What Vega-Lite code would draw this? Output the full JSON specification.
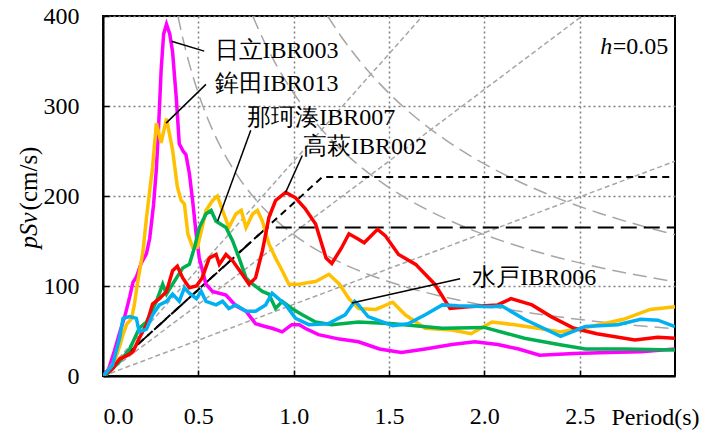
{
  "$schema": "https://vega.github.io/schema/vega-lite/v6.json",
  "width": 720,
  "height": 433,
  "autosize": {"type": "fit", "contains": "padding"},
  "padding": {"left": 16, "top": 4, "right": 45, "bottom": 4},
  "background": "white",
  "config": {
    "view": {"stroke": "black", "strokeWidth": 2},
    "font": "Liberation Serif",
    "axis": {
      "labelFont": "Liberation Serif",
      "titleFont": "Liberation Serif",
      "labelFontSize": 24,
      "titleFontSize": 24,
      "titleFontWeight": "normal",
      "labelColor": "black",
      "titleColor": "black",
      "domainColor": "black",
      "domainWidth": 2,
      "tickColor": "black",
      "tickWidth": 1.5,
      "gridColor": "#7f7f7f",
      "gridDash": [2, 3],
      "gridWidth": 1.5,
      "gridOpacity": 1
    }
  },
  "datasets": {
    "guides": [
      {"g": "a500", "k": "gshort", "T": 0, "Sv": 0},
      {"g": "a500", "k": "gshort", "T": 3, "Sv": 238.7},
      {"g": "a1000", "k": "gshort", "T": 0, "Sv": 0},
      {"g": "a1000", "k": "gshort", "T": 2.513, "Sv": 400},
      {"g": "a1500", "k": "gshort", "T": 0, "Sv": 0},
      {"g": "a1500", "k": "gshort", "T": 1.676, "Sv": 400},
      {"g": "d25", "k": "glong", "T": 0.393, "Sv": 400},
      {"g": "d25", "k": "glong", "T": 0.42, "Sv": 374},
      {"g": "d25", "k": "glong", "T": 0.45, "Sv": 349},
      {"g": "d25", "k": "glong", "T": 0.5, "Sv": 314.2},
      {"g": "d25", "k": "glong", "T": 0.55, "Sv": 285.6},
      {"g": "d25", "k": "glong", "T": 0.6, "Sv": 261.8},
      {"g": "d25", "k": "glong", "T": 0.7, "Sv": 224.4},
      {"g": "d25", "k": "glong", "T": 0.8, "Sv": 196.3},
      {"g": "d25", "k": "glong", "T": 0.9, "Sv": 174.5},
      {"g": "d25", "k": "glong", "T": 1.0, "Sv": 157.1},
      {"g": "d25", "k": "glong", "T": 1.2, "Sv": 130.9},
      {"g": "d25", "k": "glong", "T": 1.4, "Sv": 112.2},
      {"g": "d25", "k": "glong", "T": 1.6, "Sv": 98.2},
      {"g": "d25", "k": "glong", "T": 1.8, "Sv": 87.3},
      {"g": "d25", "k": "glong", "T": 2.0, "Sv": 78.5},
      {"g": "d25", "k": "glong", "T": 2.25, "Sv": 69.8},
      {"g": "d25", "k": "glong", "T": 2.5, "Sv": 62.8},
      {"g": "d25", "k": "glong", "T": 2.75, "Sv": 57.1},
      {"g": "d25", "k": "glong", "T": 3.0, "Sv": 52.4},
      {"g": "d50", "k": "glong", "T": 0.785, "Sv": 400},
      {"g": "d50", "k": "glong", "T": 0.85, "Sv": 369.6},
      {"g": "d50", "k": "glong", "T": 0.9, "Sv": 349.1},
      {"g": "d50", "k": "glong", "T": 1.0, "Sv": 314.2},
      {"g": "d50", "k": "glong", "T": 1.1, "Sv": 285.6},
      {"g": "d50", "k": "glong", "T": 1.2, "Sv": 261.8},
      {"g": "d50", "k": "glong", "T": 1.35, "Sv": 232.7},
      {"g": "d50", "k": "glong", "T": 1.5, "Sv": 209.4},
      {"g": "d50", "k": "glong", "T": 1.7, "Sv": 184.8},
      {"g": "d50", "k": "glong", "T": 1.9, "Sv": 165.3},
      {"g": "d50", "k": "glong", "T": 2.1, "Sv": 149.6},
      {"g": "d50", "k": "glong", "T": 2.3, "Sv": 136.6},
      {"g": "d50", "k": "glong", "T": 2.5, "Sv": 125.7},
      {"g": "d50", "k": "glong", "T": 2.75, "Sv": 114.2},
      {"g": "d50", "k": "glong", "T": 3.0, "Sv": 104.7},
      {"g": "d75", "k": "glong", "T": 1.178, "Sv": 400},
      {"g": "d75", "k": "glong", "T": 1.25, "Sv": 377},
      {"g": "d75", "k": "glong", "T": 1.35, "Sv": 349.1},
      {"g": "d75", "k": "glong", "T": 1.5, "Sv": 314.2},
      {"g": "d75", "k": "glong", "T": 1.65, "Sv": 285.6},
      {"g": "d75", "k": "glong", "T": 1.8, "Sv": 261.8},
      {"g": "d75", "k": "glong", "T": 2.0, "Sv": 235.6},
      {"g": "d75", "k": "glong", "T": 2.2, "Sv": 214.2},
      {"g": "d75", "k": "glong", "T": 2.4, "Sv": 196.3},
      {"g": "d75", "k": "glong", "T": 2.6, "Sv": 181.2},
      {"g": "d75", "k": "glong", "T": 2.8, "Sv": 168.3},
      {"g": "d75", "k": "glong", "T": 3.0, "Sv": 157.1}
    ],
    "design": [
      {"g": "L1", "k": "bshort", "T": 0, "Sv": 0},
      {"g": "L1", "k": "bshort", "T": 1.15, "Sv": 221},
      {"g": "L1", "k": "bshort", "T": 3, "Sv": 221},
      {"g": "L2", "k": "blong", "T": 0, "Sv": 0},
      {"g": "L2", "k": "blong", "T": 0.86, "Sv": 165},
      {"g": "L2", "k": "blong", "T": 3, "Sv": 165}
    ],
    "spectra": [
      {"s": "日立IBR003", "T": 0, "Sv": 0},
      {"s": "日立IBR003", "T": 0.03, "Sv": 8},
      {"s": "日立IBR003", "T": 0.06, "Sv": 28},
      {"s": "日立IBR003", "T": 0.09, "Sv": 50},
      {"s": "日立IBR003", "T": 0.114, "Sv": 66},
      {"s": "日立IBR003", "T": 0.14, "Sv": 88},
      {"s": "日立IBR003", "T": 0.157, "Sv": 104},
      {"s": "日立IBR003", "T": 0.175, "Sv": 110},
      {"s": "日立IBR003", "T": 0.2, "Sv": 125},
      {"s": "日立IBR003", "T": 0.228, "Sv": 136},
      {"s": "日立IBR003", "T": 0.245, "Sv": 153},
      {"s": "日立IBR003", "T": 0.265, "Sv": 190},
      {"s": "日立IBR003", "T": 0.28, "Sv": 230},
      {"s": "日立IBR003", "T": 0.29, "Sv": 270},
      {"s": "日立IBR003", "T": 0.305, "Sv": 340},
      {"s": "日立IBR003", "T": 0.318, "Sv": 380},
      {"s": "日立IBR003", "T": 0.333, "Sv": 391},
      {"s": "日立IBR003", "T": 0.35, "Sv": 380},
      {"s": "日立IBR003", "T": 0.365, "Sv": 360},
      {"s": "日立IBR003", "T": 0.385, "Sv": 307},
      {"s": "日立IBR003", "T": 0.4, "Sv": 258},
      {"s": "日立IBR003", "T": 0.42, "Sv": 250},
      {"s": "日立IBR003", "T": 0.435, "Sv": 246},
      {"s": "日立IBR003", "T": 0.453, "Sv": 225},
      {"s": "日立IBR003", "T": 0.47, "Sv": 195},
      {"s": "日立IBR003", "T": 0.49, "Sv": 155},
      {"s": "日立IBR003", "T": 0.505, "Sv": 131},
      {"s": "日立IBR003", "T": 0.54, "Sv": 102},
      {"s": "日立IBR003", "T": 0.574, "Sv": 94},
      {"s": "日立IBR003", "T": 0.61, "Sv": 92},
      {"s": "日立IBR003", "T": 0.645, "Sv": 90},
      {"s": "日立IBR003", "T": 0.697, "Sv": 78},
      {"s": "日立IBR003", "T": 0.75, "Sv": 72},
      {"s": "日立IBR003", "T": 0.8, "Sv": 58},
      {"s": "日立IBR003", "T": 0.85, "Sv": 55},
      {"s": "日立IBR003", "T": 0.887, "Sv": 53},
      {"s": "日立IBR003", "T": 0.94, "Sv": 49},
      {"s": "日立IBR003", "T": 0.99, "Sv": 57},
      {"s": "日立IBR003", "T": 1.03, "Sv": 57},
      {"s": "日立IBR003", "T": 1.06, "Sv": 53},
      {"s": "日立IBR003", "T": 1.13, "Sv": 46},
      {"s": "日立IBR003", "T": 1.24, "Sv": 41},
      {"s": "日立IBR003", "T": 1.34, "Sv": 38},
      {"s": "日立IBR003", "T": 1.45, "Sv": 30},
      {"s": "日立IBR003", "T": 1.565, "Sv": 26},
      {"s": "日立IBR003", "T": 1.69, "Sv": 30},
      {"s": "日立IBR003", "T": 1.83, "Sv": 35},
      {"s": "日立IBR003", "T": 1.95, "Sv": 38},
      {"s": "日立IBR003", "T": 2.07, "Sv": 35},
      {"s": "日立IBR003", "T": 2.18, "Sv": 30},
      {"s": "日立IBR003", "T": 2.29, "Sv": 23},
      {"s": "日立IBR003", "T": 2.47, "Sv": 25},
      {"s": "日立IBR003", "T": 2.65, "Sv": 26},
      {"s": "日立IBR003", "T": 2.82, "Sv": 27},
      {"s": "日立IBR003", "T": 3.0, "Sv": 30},
      {"s": "鉾田IBR013", "T": 0, "Sv": 0},
      {"s": "鉾田IBR013", "T": 0.02, "Sv": 4},
      {"s": "鉾田IBR013", "T": 0.06, "Sv": 16},
      {"s": "鉾田IBR013", "T": 0.09, "Sv": 35},
      {"s": "鉾田IBR013", "T": 0.105, "Sv": 46},
      {"s": "鉾田IBR013", "T": 0.123, "Sv": 57},
      {"s": "鉾田IBR013", "T": 0.15, "Sv": 64},
      {"s": "鉾田IBR013", "T": 0.165, "Sv": 80},
      {"s": "鉾田IBR013", "T": 0.18, "Sv": 102},
      {"s": "鉾田IBR013", "T": 0.21, "Sv": 139},
      {"s": "鉾田IBR013", "T": 0.228, "Sv": 176},
      {"s": "鉾田IBR013", "T": 0.245, "Sv": 206},
      {"s": "鉾田IBR013", "T": 0.26, "Sv": 232},
      {"s": "鉾田IBR013", "T": 0.28, "Sv": 281},
      {"s": "鉾田IBR013", "T": 0.305, "Sv": 259},
      {"s": "鉾田IBR013", "T": 0.333, "Sv": 286},
      {"s": "鉾田IBR013", "T": 0.365, "Sv": 251},
      {"s": "鉾田IBR013", "T": 0.39, "Sv": 210},
      {"s": "鉾田IBR013", "T": 0.41, "Sv": 195},
      {"s": "鉾田IBR013", "T": 0.427, "Sv": 191},
      {"s": "鉾田IBR013", "T": 0.445, "Sv": 158},
      {"s": "鉾田IBR013", "T": 0.47, "Sv": 143},
      {"s": "鉾田IBR013", "T": 0.495, "Sv": 143},
      {"s": "鉾田IBR013", "T": 0.52, "Sv": 165},
      {"s": "鉾田IBR013", "T": 0.54, "Sv": 184},
      {"s": "鉾田IBR013", "T": 0.575, "Sv": 195},
      {"s": "鉾田IBR013", "T": 0.6, "Sv": 200},
      {"s": "鉾田IBR013", "T": 0.627, "Sv": 184},
      {"s": "鉾田IBR013", "T": 0.66, "Sv": 165},
      {"s": "鉾田IBR013", "T": 0.697, "Sv": 180},
      {"s": "鉾田IBR013", "T": 0.725, "Sv": 184},
      {"s": "鉾田IBR013", "T": 0.75, "Sv": 165},
      {"s": "鉾田IBR013", "T": 0.785, "Sv": 180},
      {"s": "鉾田IBR013", "T": 0.81, "Sv": 184},
      {"s": "鉾田IBR013", "T": 0.836, "Sv": 172},
      {"s": "鉾田IBR013", "T": 0.87, "Sv": 147},
      {"s": "鉾田IBR013", "T": 0.905, "Sv": 131},
      {"s": "鉾田IBR013", "T": 0.94, "Sv": 117},
      {"s": "鉾田IBR013", "T": 0.975, "Sv": 102},
      {"s": "鉾田IBR013", "T": 1.03, "Sv": 102},
      {"s": "鉾田IBR013", "T": 1.08, "Sv": 104},
      {"s": "鉾田IBR013", "T": 1.115, "Sv": 105},
      {"s": "鉾田IBR013", "T": 1.185, "Sv": 113},
      {"s": "鉾田IBR013", "T": 1.24, "Sv": 102},
      {"s": "鉾田IBR013", "T": 1.29, "Sv": 86},
      {"s": "鉾田IBR013", "T": 1.34, "Sv": 75},
      {"s": "鉾田IBR013", "T": 1.43, "Sv": 74},
      {"s": "鉾田IBR013", "T": 1.52, "Sv": 82},
      {"s": "鉾田IBR013", "T": 1.585, "Sv": 68},
      {"s": "鉾田IBR013", "T": 1.69, "Sv": 53},
      {"s": "鉾田IBR013", "T": 1.83, "Sv": 51},
      {"s": "鉾田IBR013", "T": 1.93, "Sv": 47},
      {"s": "鉾田IBR013", "T": 2.04, "Sv": 60},
      {"s": "鉾田IBR013", "T": 2.16, "Sv": 57},
      {"s": "鉾田IBR013", "T": 2.28, "Sv": 53},
      {"s": "鉾田IBR013", "T": 2.4, "Sv": 49},
      {"s": "鉾田IBR013", "T": 2.56, "Sv": 55},
      {"s": "鉾田IBR013", "T": 2.73, "Sv": 63},
      {"s": "鉾田IBR013", "T": 2.87, "Sv": 74},
      {"s": "鉾田IBR013", "T": 3.0, "Sv": 77},
      {"s": "那珂湊IBR007", "T": 0, "Sv": 0},
      {"s": "那珂湊IBR007", "T": 0.02, "Sv": 2},
      {"s": "那珂湊IBR007", "T": 0.087, "Sv": 16},
      {"s": "那珂湊IBR007", "T": 0.14, "Sv": 30},
      {"s": "那珂湊IBR007", "T": 0.19, "Sv": 53},
      {"s": "那珂湊IBR007", "T": 0.228, "Sv": 60},
      {"s": "那珂湊IBR007", "T": 0.28, "Sv": 83},
      {"s": "那珂湊IBR007", "T": 0.313, "Sv": 102},
      {"s": "那珂湊IBR007", "T": 0.333, "Sv": 91},
      {"s": "那珂湊IBR007", "T": 0.365, "Sv": 102},
      {"s": "那珂湊IBR007", "T": 0.418, "Sv": 120},
      {"s": "那珂湊IBR007", "T": 0.453, "Sv": 124},
      {"s": "那珂湊IBR007", "T": 0.48, "Sv": 143},
      {"s": "那珂湊IBR007", "T": 0.505, "Sv": 165},
      {"s": "那珂湊IBR007", "T": 0.54, "Sv": 180},
      {"s": "那珂湊IBR007", "T": 0.567, "Sv": 184},
      {"s": "那珂湊IBR007", "T": 0.593, "Sv": 172},
      {"s": "那珂湊IBR007", "T": 0.645, "Sv": 165},
      {"s": "那珂湊IBR007", "T": 0.68, "Sv": 150},
      {"s": "那珂湊IBR007", "T": 0.714, "Sv": 131},
      {"s": "那珂湊IBR007", "T": 0.75, "Sv": 109},
      {"s": "那珂湊IBR007", "T": 0.785, "Sv": 102},
      {"s": "那珂湊IBR007", "T": 0.836, "Sv": 94},
      {"s": "那珂湊IBR007", "T": 0.87, "Sv": 91},
      {"s": "那珂湊IBR007", "T": 0.905, "Sv": 75},
      {"s": "那珂湊IBR007", "T": 0.94, "Sv": 83},
      {"s": "那珂湊IBR007", "T": 0.99, "Sv": 75},
      {"s": "那珂湊IBR007", "T": 1.045, "Sv": 68},
      {"s": "那珂湊IBR007", "T": 1.115, "Sv": 60},
      {"s": "那珂湊IBR007", "T": 1.2, "Sv": 57},
      {"s": "那珂湊IBR007", "T": 1.34, "Sv": 60},
      {"s": "那珂湊IBR007", "T": 1.52, "Sv": 58},
      {"s": "那珂湊IBR007", "T": 1.78, "Sv": 53},
      {"s": "那珂湊IBR007", "T": 2.0, "Sv": 54},
      {"s": "那珂湊IBR007", "T": 2.21, "Sv": 42},
      {"s": "那珂湊IBR007", "T": 2.39, "Sv": 35},
      {"s": "那珂湊IBR007", "T": 2.53, "Sv": 30},
      {"s": "那珂湊IBR007", "T": 2.73, "Sv": 30},
      {"s": "那珂湊IBR007", "T": 3.0, "Sv": 29},
      {"s": "高萩IBR002", "T": 0, "Sv": 0},
      {"s": "高萩IBR002", "T": 0.05, "Sv": 8},
      {"s": "高萩IBR002", "T": 0.087, "Sv": 19},
      {"s": "高萩IBR002", "T": 0.12, "Sv": 22},
      {"s": "高萩IBR002", "T": 0.157, "Sv": 27},
      {"s": "高萩IBR002", "T": 0.19, "Sv": 42},
      {"s": "高萩IBR002", "T": 0.228, "Sv": 57},
      {"s": "高萩IBR002", "T": 0.26, "Sv": 80},
      {"s": "高萩IBR002", "T": 0.296, "Sv": 86},
      {"s": "高萩IBR002", "T": 0.333, "Sv": 94},
      {"s": "高萩IBR002", "T": 0.365, "Sv": 117},
      {"s": "高萩IBR002", "T": 0.39, "Sv": 122},
      {"s": "高萩IBR002", "T": 0.418, "Sv": 109},
      {"s": "高萩IBR002", "T": 0.453, "Sv": 98},
      {"s": "高萩IBR002", "T": 0.49, "Sv": 100},
      {"s": "高萩IBR002", "T": 0.52, "Sv": 109},
      {"s": "高萩IBR002", "T": 0.557, "Sv": 131},
      {"s": "高萩IBR002", "T": 0.593, "Sv": 135},
      {"s": "高萩IBR002", "T": 0.61, "Sv": 124},
      {"s": "高萩IBR002", "T": 0.645, "Sv": 135},
      {"s": "高萩IBR002", "T": 0.68, "Sv": 128},
      {"s": "高萩IBR002", "T": 0.73, "Sv": 113},
      {"s": "高萩IBR002", "T": 0.766, "Sv": 102},
      {"s": "高萩IBR002", "T": 0.8, "Sv": 109},
      {"s": "高萩IBR002", "T": 0.836, "Sv": 139},
      {"s": "高萩IBR002", "T": 0.87, "Sv": 176},
      {"s": "高萩IBR002", "T": 0.905, "Sv": 195},
      {"s": "高萩IBR002", "T": 0.958, "Sv": 204},
      {"s": "高萩IBR002", "T": 1.01, "Sv": 198},
      {"s": "高萩IBR002", "T": 1.06, "Sv": 186},
      {"s": "高萩IBR002", "T": 1.115, "Sv": 169},
      {"s": "高萩IBR002", "T": 1.17, "Sv": 131},
      {"s": "高萩IBR002", "T": 1.2, "Sv": 125},
      {"s": "高萩IBR002", "T": 1.25, "Sv": 142},
      {"s": "高萩IBR002", "T": 1.29, "Sv": 158},
      {"s": "高萩IBR002", "T": 1.34, "Sv": 152},
      {"s": "高萩IBR002", "T": 1.37, "Sv": 148},
      {"s": "高萩IBR002", "T": 1.44, "Sv": 163},
      {"s": "高萩IBR002", "T": 1.48, "Sv": 156},
      {"s": "高萩IBR002", "T": 1.55, "Sv": 135},
      {"s": "高萩IBR002", "T": 1.64, "Sv": 124},
      {"s": "高萩IBR002", "T": 1.74, "Sv": 102},
      {"s": "高萩IBR002", "T": 1.82, "Sv": 75},
      {"s": "高萩IBR002", "T": 1.915, "Sv": 77},
      {"s": "高萩IBR002", "T": 2.07, "Sv": 79},
      {"s": "高萩IBR002", "T": 2.14, "Sv": 86},
      {"s": "高萩IBR002", "T": 2.25, "Sv": 79},
      {"s": "高萩IBR002", "T": 2.35, "Sv": 66},
      {"s": "高萩IBR002", "T": 2.47, "Sv": 53},
      {"s": "高萩IBR002", "T": 2.59, "Sv": 47},
      {"s": "高萩IBR002", "T": 2.79, "Sv": 40},
      {"s": "高萩IBR002", "T": 2.91, "Sv": 43},
      {"s": "高萩IBR002", "T": 3.0, "Sv": 42},
      {"s": "水戸IBR006", "T": 0, "Sv": 0},
      {"s": "水戸IBR006", "T": 0.01, "Sv": 2},
      {"s": "水戸IBR006", "T": 0.05, "Sv": 12},
      {"s": "水戸IBR006", "T": 0.087, "Sv": 42},
      {"s": "水戸IBR006", "T": 0.105, "Sv": 64},
      {"s": "水戸IBR006", "T": 0.14, "Sv": 66},
      {"s": "水戸IBR006", "T": 0.175, "Sv": 64},
      {"s": "水戸IBR006", "T": 0.19, "Sv": 49},
      {"s": "水戸IBR006", "T": 0.228, "Sv": 52},
      {"s": "水戸IBR006", "T": 0.26, "Sv": 68},
      {"s": "水戸IBR006", "T": 0.296, "Sv": 79},
      {"s": "水戸IBR006", "T": 0.333, "Sv": 83},
      {"s": "水戸IBR006", "T": 0.365, "Sv": 91},
      {"s": "水戸IBR006", "T": 0.4, "Sv": 83},
      {"s": "水戸IBR006", "T": 0.427, "Sv": 98},
      {"s": "水戸IBR006", "T": 0.453, "Sv": 92},
      {"s": "水戸IBR006", "T": 0.49, "Sv": 86},
      {"s": "水戸IBR006", "T": 0.515, "Sv": 94},
      {"s": "水戸IBR006", "T": 0.54, "Sv": 83},
      {"s": "水戸IBR006", "T": 0.593, "Sv": 79},
      {"s": "水戸IBR006", "T": 0.627, "Sv": 83},
      {"s": "水戸IBR006", "T": 0.66, "Sv": 75},
      {"s": "水戸IBR006", "T": 0.697, "Sv": 79},
      {"s": "水戸IBR006", "T": 0.75, "Sv": 72},
      {"s": "水戸IBR006", "T": 0.8, "Sv": 72},
      {"s": "水戸IBR006", "T": 0.853, "Sv": 79},
      {"s": "水戸IBR006", "T": 0.887, "Sv": 92},
      {"s": "水戸IBR006", "T": 0.92, "Sv": 86},
      {"s": "水戸IBR006", "T": 0.958, "Sv": 79},
      {"s": "水戸IBR006", "T": 1.01, "Sv": 64},
      {"s": "水戸IBR006", "T": 1.08, "Sv": 57},
      {"s": "水戸IBR006", "T": 1.18, "Sv": 58},
      {"s": "水戸IBR006", "T": 1.27, "Sv": 68},
      {"s": "水戸IBR006", "T": 1.32, "Sv": 83},
      {"s": "水戸IBR006", "T": 1.34, "Sv": 79},
      {"s": "水戸IBR006", "T": 1.39, "Sv": 66},
      {"s": "水戸IBR006", "T": 1.52, "Sv": 56},
      {"s": "水戸IBR006", "T": 1.6, "Sv": 58},
      {"s": "水戸IBR006", "T": 1.69, "Sv": 68},
      {"s": "水戸IBR006", "T": 1.78, "Sv": 79},
      {"s": "水戸IBR006", "T": 1.86, "Sv": 78},
      {"s": "水戸IBR006", "T": 2.04, "Sv": 77},
      {"s": "水戸IBR006", "T": 2.09, "Sv": 78},
      {"s": "水戸IBR006", "T": 2.21, "Sv": 63},
      {"s": "水戸IBR006", "T": 2.4, "Sv": 44},
      {"s": "水戸IBR006", "T": 2.53, "Sv": 55},
      {"s": "水戸IBR006", "T": 2.7, "Sv": 57},
      {"s": "水戸IBR006", "T": 2.82, "Sv": 63},
      {"s": "水戸IBR006", "T": 2.91, "Sv": 62},
      {"s": "水戸IBR006", "T": 3.0, "Sv": 55}
    ],
    "leaders": [
      {"T": 0.359, "Sv": 372, "T2": 0.531, "Sv2": 361},
      {"T": 0.331, "Sv": 281, "T2": 0.54, "Sv2": 324},
      {"T": 0.775, "Sv": 273, "T2": 0.601, "Sv2": 172},
      {"T": 1.045, "Sv": 245, "T2": 0.958, "Sv2": 204},
      {"T": 1.873, "Sv": 108, "T2": 1.305, "Sv2": 81}
    ],
    "labels": [
      {"T": 0.585, "Sv": 361, "label": "日立IBR003"},
      {"T": 0.585, "Sv": 324, "label": "鉾田IBR013"},
      {"T": 0.757, "Sv": 287, "label": "那珂湊IBR007"},
      {"T": 1.049, "Sv": 255, "label": "高萩IBR002"},
      {"T": 1.937, "Sv": 109, "label": "水戸IBR006"}
    ],
    "damping": [
      {"T": 2.965, "Sv": 366, "label": "=0.05", "h": "h"}
    ]
  },
  "encoding": {
    "x": {
      "field": "T", "type": "quantitative",
      "scale": {"domain": [0, 3], "nice": false},
      "axis": {
        "orient": "bottom",
        "values": [0, 0.5, 1, 1.5, 2, 2.5],
        "format": ".1f",
        "grid": true,
        "tickSize": -6,
        "labelPadding": 34,
        "labelFontSize": 24,
        "title": "Period(s)",
        "titleX": 552,
        "titleY": 41,
        "titleAlign": "center",
        "titleBaseline": "middle",
        "titleFontSize": 24
      }
    }
  },
  "resolve": {"axis": {"y": "independent"}},
  "layer": [
    {
      "data": {"name": "guides"},
      "mark": {"type": "line", "color": "#a6a6a6", "strokeWidth": 1.5, "interpolate": "monotone", "clip": true},
      "encoding": {
        "y": {
          "field": "Sv", "type": "quantitative",
          "scale": {"domain": [0, 400], "nice": false},
          "axis": {
            "orient": "left",
            "values": [0, 100, 200, 300, 400],
            "grid": true,
            "tickSize": -6,
            "labelPadding": 30,
            "labelFontSize": 24,
            "title": "(cm/s)",
            "titleFontSize": 25,
            "titleAngle": -90,
            "titleX": -75,
            "titleY": 162,
            "titleAlign": "center",
            "titleBaseline": "middle"
          }
        },
        "detail": {"field": "g"},
        "strokeDash": {"field": "k", "type": "nominal", "scale": {"domain": ["gshort", "glong", "bshort", "blong"], "range": [[5, 3], [14, 7], [7, 5], [16, 7]]}, "legend": null}
      }
    },
    {
      "data": {"name": "design"},
      "mark": {"type": "line", "color": "black", "strokeWidth": 2, "clip": true},
      "encoding": {
        "y": {
          "field": "Sv", "type": "quantitative",
          "axis": {
            "orient": "left",
            "labels": false, "ticks": false, "domain": false, "grid": false,
            "title": "pSv",
            "titleFontStyle": "italic",
            "titleFontSize": 25,
            "titleAngle": -90,
            "titleX": -75,
            "titleY": 214,
            "titleAlign": "center",
            "titleBaseline": "middle"
          }
        },
        "detail": {"field": "g"},
        "strokeDash": {"field": "k", "type": "nominal", "scale": {"domain": ["gshort", "glong", "bshort", "blong"], "range": [[5, 3], [14, 7], [7, 5], [16, 7]]}, "legend": null}
      }
    },
    {
      "data": {"name": "spectra"},
      "mark": {"type": "line", "strokeWidth": 3.5, "clip": true},
      "encoding": {
        "y": {"field": "Sv", "type": "quantitative", "axis": null},
        "color": {
          "field": "s", "type": "nominal",
          "scale": {
            "domain": ["日立IBR003", "鉾田IBR013", "那珂湊IBR007", "高萩IBR002", "水戸IBR006"],
            "range": ["#ff00ff", "#ffc000", "#00b050", "#ff0000", "#00b0f0"]
          },
          "legend": null
        }
      }
    },
    {
      "data": {"name": "leaders"},
      "mark": {"type": "rule", "color": "black", "strokeWidth": 1.5},
      "encoding": {
        "y": {"field": "Sv", "type": "quantitative", "axis": null},
        "x2": {"field": "T2"},
        "y2": {"field": "Sv2"}
      }
    },
    {
      "data": {"name": "labels"},
      "mark": {"type": "text", "align": "left", "baseline": "middle", "fontSize": 24, "font": "Liberation Serif", "color": "black"},
      "encoding": {
        "y": {"field": "Sv", "type": "quantitative", "axis": null},
        "text": {"field": "label"}
      }
    },
    {
      "data": {"name": "damping"},
      "mark": {"type": "text", "align": "right", "baseline": "middle", "fontSize": 24, "font": "Liberation Serif", "color": "black"},
      "encoding": {
        "y": {"field": "Sv", "type": "quantitative", "axis": null},
        "text": {"field": "label"}
      }
    },
    {
      "data": {"name": "damping"},
      "mark": {"type": "text", "align": "right", "baseline": "middle", "fontSize": 24, "fontStyle": "italic", "font": "Liberation Serif", "color": "black", "dx": -56},
      "encoding": {
        "y": {"field": "Sv", "type": "quantitative", "axis": null},
        "text": {"field": "h"}
      }
    }
  ]
}
